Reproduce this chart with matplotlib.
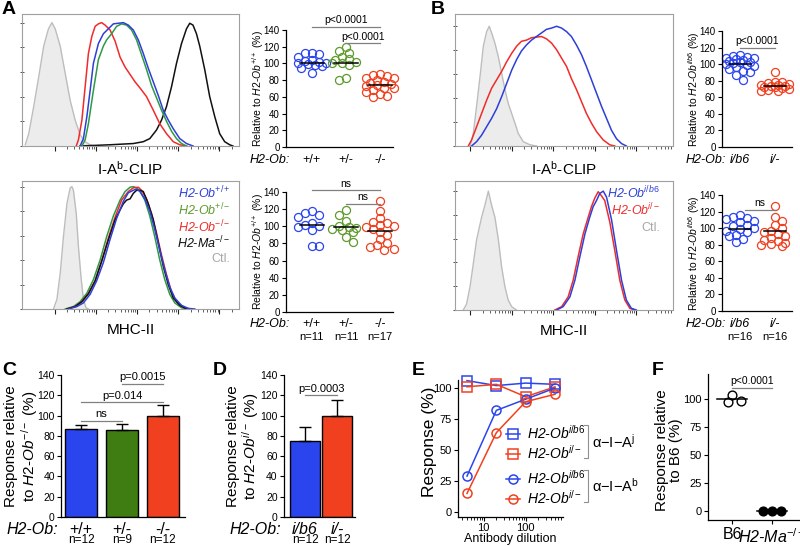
import matplotlib.pyplot as plt
import numpy as np

plt.rcParams['font.family'] = ['Liberation Sans', 'DejaVu Sans']
plt.rcParams['mathtext.fontset'] = 'custom'
plt.rcParams['mathtext.rm'] = 'Liberation Sans'
plt.rcParams['mathtext.it'] = 'Liberation Sans:italic'
plt.rcParams['mathtext.bf'] = 'Liberation Sans:bold'
plt.rcParams['axes.linewidth'] = 0.9

# ---------------- data ----------------
# flow histograms: channel (0-1000) vs % of max
a_clip_ctl_x = [15, 31, 54, 77, 100, 122, 138, 153, 176, 199, 222, 245, 268, 291, 314, 337]
a_clip_ctl_y = [1, 10, 32, 56, 81, 95, 100, 95, 81, 59, 37, 21, 9, 3.5, 1, 0]
a_clip_ko_x = [250, 260, 276, 291, 306, 322, 337, 352, 367, 383, 406, 429, 452, 475, 498, 521, 544, 574, 605, 635, 666, 697, 727, 758]
a_clip_ko_y = [0, 5, 21, 48, 75, 89, 97, 99, 100, 98, 94, 85, 72, 64, 58, 52, 47, 40, 29, 18, 10, 3.5, 1, 0]
a_clip_wt_x = [268, 283, 299, 314, 329, 352, 375, 398, 421, 444, 467, 490, 513, 536, 559, 582, 605, 628, 651, 674, 697, 727, 758, 788]
a_clip_wt_y = [0, 6, 24, 45, 67, 83, 91, 95, 99, 99.5, 100, 98, 94, 86, 75, 63, 52, 41, 29, 21, 14, 6, 2, 0]
a_clip_het_x = [276, 291, 306, 329, 352, 375, 390, 413, 436, 459, 482, 505, 528, 551, 574, 597, 620, 643, 666, 689, 712, 735, 758]
a_clip_het_y = [0, 5, 18, 45, 70, 81, 86, 91, 97, 99, 98, 94, 86, 74, 62, 49, 39, 29, 20, 12, 6, 2, 0]
a_clip_ma_x = [268, 406, 513, 559, 589, 620, 643, 666, 689, 712, 735, 758, 773, 788, 804, 819, 842, 865, 888, 911, 934, 957, 972]
a_clip_ma_y = [0, 1, 2, 3.5, 6, 13, 21, 32, 48, 67, 83, 95, 99.5, 98, 91, 81, 62, 40, 24, 10, 3.5, 1, 0]

a_mhc_ctl_x = [145, 161, 176, 191, 207, 222, 230, 237, 250, 260, 273, 283, 295, 306]
a_mhc_ctl_y = [0, 8, 29, 59, 86, 99, 100, 97, 78, 51, 24, 8, 1, 0]
a_mhc_het_x = [199, 237, 268, 299, 329, 360, 390, 421, 452, 475, 498, 513, 528, 544, 566, 589, 612, 635, 658, 681, 704, 735, 766]
a_mhc_het_y = [0, 2, 6, 13, 24, 40, 59, 76, 89, 96, 99.5, 100, 99, 96, 89, 76, 59, 40, 24, 12, 5, 1, 0]
a_mhc_wt_x = [214, 253, 283, 314, 344, 375, 406, 436, 467, 490, 513, 528, 544, 566, 589, 612, 635, 658, 681, 704, 735, 766, 796]
a_mhc_wt_y = [0, 2, 5, 12, 23, 38, 57, 74, 88, 95, 97, 98, 96, 90, 80, 65, 48, 32, 18, 9, 3, 0.5, 0]
a_mhc_ko_x = [207, 245, 276, 306, 337, 367, 398, 429, 459, 490, 513, 536, 551, 574, 597, 620, 643, 666, 689, 712, 743, 773]
a_mhc_ko_y = [0, 2, 6, 12.5, 23, 39, 58, 75, 89, 96, 99, 99.5, 97, 90, 78, 62, 44, 28, 14, 6, 1.6, 0]
a_mhc_ma_x = [207, 245, 276, 306, 337, 367, 398, 429, 452, 467, 482, 498, 513, 528, 544, 559, 582, 605, 628, 651, 674, 697, 727, 758]
a_mhc_ma_y = [0, 2, 6, 12.5, 23, 39, 56.5, 73, 81, 86, 89, 90, 94.5, 97, 97, 96, 86, 73, 54, 35, 20, 9, 3, 0]

b_clip_ctl_x = [69, 84, 99, 115, 130, 145, 157, 168, 183, 199, 214, 229, 244, 260, 275, 290, 313, 344, 374]
b_clip_ctl_y = [0, 10.5, 33, 58, 83, 95, 99.5, 94, 85.5, 74, 60.5, 47, 35.5, 27, 19, 10.5, 3.6, 1, 0]
b_clip_ko_x = [61, 76, 99, 122, 145, 168, 191, 214, 237, 260, 283, 305, 328, 351, 374, 397, 420, 443, 466, 489, 512, 534, 557, 580, 603, 626, 649, 680, 710, 733]
b_clip_ko_y = [0, 5, 16, 27, 38, 48, 55, 62, 70, 77, 83, 87, 88, 90, 90.5, 91, 89, 85.5, 80, 73, 66, 56, 47, 37, 27, 19, 12, 5, 1, 0]
b_clip_ib6_x = [76, 99, 122, 145, 168, 191, 214, 237, 260, 283, 305, 328, 351, 374, 397, 420, 443, 466, 489, 512, 534, 557, 580, 603, 626, 649, 672, 695, 718, 741, 764, 786]
b_clip_ib6_y = [0, 3.6, 9, 16, 23, 31, 41, 52, 63, 72, 79, 84, 88, 91, 94, 97, 98, 99.5, 98, 95, 91, 84, 76, 66, 55, 44, 33, 23, 13, 6, 2, 0]

b_mhc_ctl_x = [38, 53, 69, 84, 99, 122, 137, 153, 168, 183, 199, 214, 229, 244, 260, 282]
b_mhc_ctl_y = [0, 5, 19.6, 39, 59, 78, 88, 100, 88, 78, 59, 36, 19.6, 8.4, 2.8, 0]
b_mhc_ib6_x = [466, 496, 527, 550, 573, 596, 618, 634, 649, 664, 680, 695, 718, 741, 764, 786, 809, 832]
b_mhc_ib6_y = [0, 2.8, 11, 25, 45, 64, 78, 87, 92, 98, 100, 95, 76, 50, 25, 8.4, 1.4, 0]
b_mhc_ko_x = [458, 489, 519, 542, 565, 588, 611, 626, 641, 657, 672, 687, 710, 733, 756, 779, 802, 825]
b_mhc_ko_y = [0, 2.8, 11, 25, 45, 64, 78, 87, 94, 99.5, 96, 92, 74, 50, 25, 8.4, 1.4, 0]

# dot plots (% relative)
a_geno = ['+/+', '+/-', '-/-']
a_clip_wt = [113, 112, 111, 108, 104, 103, 102, 101, 100, 99, 98, 97, 95, 89]
a_clip_het = [120, 115, 113, 108, 105, 104, 102, 101, 100, 98, 83, 80]
a_clip_ko = [87, 86, 85, 83, 82, 80, 78, 76, 75, 74, 73, 71, 70, 68, 66, 63, 61, 60]
a_clip_med = [101, 101, 74]
a_mhc_wt = [118, 115, 113, 111, 104, 102, 100, 99, 96, 77, 77]
a_mhc_het = [119, 113, 106, 100, 99, 98, 97, 96, 93, 88, 82]
a_mhc_ko = [130, 118, 110, 105, 104, 102, 100, 99, 97, 93, 90, 85, 80, 78, 76, 74, 72]
a_mhc_med = [101, 99, 95]
a_mhc_n = ['n=11', 'n=11', 'n=17']

b_geno = ['i/b6', 'i/-']
b_clip_ib6 = [111, 110, 109, 108, 107, 106, 105, 104, 103, 102, 101, 100, 99, 98, 96, 94, 92, 90, 87, 81]
b_clip_ko = [90, 79, 78, 77, 76, 75, 75, 74, 74, 73, 72, 71, 70, 69, 68, 67]
b_clip_med = [100, 74]
b_mhc_ib6 = [116, 114, 112, 111, 109, 107, 104, 102, 100, 99, 97, 95, 92, 90, 87, 83]
b_mhc_ko = [127, 114, 109, 104, 100, 97, 95, 93, 90, 88, 86, 84, 82, 81, 80, 79]
b_mhc_med = [99, 96]
b_mhc_n = ['n=16', 'n=16']

# C, D bars
c_mean = [87, 86, 100]
c_err = [4, 6, 10]
c_n = ['n=12', 'n=9', 'n=12']
d_mean = [75, 100]
d_err = [14, 15]
d_n = ['n=12', 'n=12']

# E dilution curves
e_dilution = [4, 20, 100, 500]
e_ib6_Aj = [106, 102, 104, 103]
e_ko_Aj = [101, 103, 93, 101]
e_ib6_Ab = [29, 82, 91, 100]
e_ko_Ab = [15, 64, 89, 95]

# F
f_b6 = [104, 97, 98]
f_ma = [0, 0, 0]
f_med = [100, 0]

BLUE = '#2b45ee'
GREEN = '#5f9a2c'
RED = '#f0401f'
H_BLUE = '#2e3fd8'
H_GREEN = '#2e9a45'
H_RED = '#f02b2b'
GRAY_LINE = '#808080'

W, H = 800, 546
fig = plt.figure(figsize=(8, 5.46), dpi=100)


def px_axes(x0, x1, y0, y1):
    return fig.add_axes([x0 / W, 1 - y1 / H, (x1 - x0) / W, (y1 - y0) / H])


def flow_hist(ax, ctl_x, ctl_y, curves, ytop, decades):
    ax.fill_between(ctl_x, ctl_y, color='#ececec', lw=0)
    ax.plot(ctl_x, ctl_y, color='#bdbdbd', lw=1)
    for x, y, c in curves:
        ax.plot(x, y, color=c, lw=1.1)
    ax.set_xlim(0, 1000)
    ax.set_ylim(0, ytop)
    for s in ax.spines.values():
        s.set_color('#a0a0a0')
        s.set_linewidth(0.8)
    ax.set_yticks(range(0, 101, 20))
    ax.set_yticklabels([])
    ax.tick_params(axis='y', direction='inout', length=3, width=0.6, color='#333333')
    minors = []
    for d in decades:
        for k in range(2, 10):
            p = d + 190 * np.log10(k)
            if p < 1000:
                minors.append(p)
    ax.set_xticks(decades)
    ax.set_xticks(minors, minor=True)
    ax.set_xticklabels([])
    ax.tick_params(axis='x', which='major', direction='out', length=3.5, width=0.8, color='#222222')
    ax.tick_params(axis='x', which='minor', direction='out', length=2, width=0.6, color='#444444')


def swarm(vals, ppx, ppy, d=6.5, step=3.5, kmax=4):
    placed = []
    offs = []
    for i, v in enumerate(vals):
        sign = 1 if i % 2 == 0 else -1
        best, best_gap = 0.0, -1
        found = False
        for k in range(kmax + 1):
            cands = [0.0] if k == 0 else [sign * k * step, -sign * k * step]
            for c in cands:
                gap = min([np.hypot(c - px, (v - pv) * ppy) for px, pv in placed], default=1e9)
                if gap >= d:
                    best, found = c, True
                    break
                if gap > best_gap:
                    best, best_gap = c, gap
            if found:
                break
        placed.append((best, v))
        offs.append(best / ppx)
    return np.array(offs)


def style_axes(ax, fs=7):
    ax.spines['top'].set_visible(False)
    ax.spines['right'].set_visible(False)
    ax.tick_params(axis='y', direction='out', length=3, width=0.8, labelsize=fs, pad=1.5)
    ax.tick_params(axis='x', length=0)


def cat_labels(ax, labels, italic, fs, base_pt, ns=None, n_fs=8, n_pt=20, hx=3):
    for i, lab in enumerate(labels):
        ax.annotate(lab, xy=(i + 1, 0), xycoords=('data', 'axes fraction'),
                    xytext=(0, -base_pt), textcoords='offset points', ha='center',
                    va='baseline', fontsize=fs, style='italic' if italic else 'normal',
                    annotation_clip=False)
        if ns is not None:
            ax.annotate(ns[i], xy=(i + 1, 0), xycoords=('data', 'axes fraction'),
                        xytext=(0, -n_pt), textcoords='offset points', ha='center',
                        va='baseline', fontsize=n_fs, annotation_clip=False)
    ax.annotate('H2-Ob:', xy=(0, 0), xycoords='axes fraction', xytext=(hx, -base_pt),
                textcoords='offset points', ha='right', va='baseline', fontsize=fs, style='italic',
                annotation_clip=False)
    ax.set_xticks([])


def bracket(ax, x1, x2, y, text, fs=7.5):
    ax.plot([x1, x2], [y, y], color=GRAY_LINE, lw=0.9, clip_on=False)
    ax.annotate(text, xy=((x1 + x2) / 2, y), xytext=(0, 1.2), textcoords='offset points',
                ha='center', va='bottom', fontsize=fs, annotation_clip=False)


def dot_panel(ax, groups, colors, medians, xlim, ppx, ppy, half=0.36):
    for i, (vals, c, m) in enumerate(zip(groups, colors, medians)):
        offs = swarm(vals, ppx, ppy)
        ax.plot(i + 1 + offs, vals, 'o', ms=5.8, mfc='none', mec=c, mew=0.9, clip_on=False)
        ax.plot([i + 1 - half, i + 1 + half], [m, m], color='black', lw=1.1)
    ax.set_xlim(*xlim)
    ax.set_ylim(0, 140)
    ax.set_yticks(range(0, 141, 20))
    style_axes(ax)


# ---------------- panel A ----------------
ax = px_axes(22, 239, 14, 146)
flow_hist(ax, a_clip_ctl_x, a_clip_ctl_y,
          [(a_clip_ma_x, a_clip_ma_y, '#111111'), (a_clip_ko_x, a_clip_ko_y, H_RED),
           (a_clip_het_x, a_clip_het_y, H_GREEN), (a_clip_wt_x, a_clip_wt_y, H_BLUE)],
          107, [150, 340, 530, 720, 910])
ax.set_xlabel('I-A$^{\\mathrm{b}}$-CLIP', fontsize=11, labelpad=3)

ax = px_axes(22, 239, 181, 309)
flow_hist(ax, a_mhc_ctl_x, a_mhc_ctl_y,
          [(a_mhc_het_x, a_mhc_het_y, H_GREEN), (a_mhc_ko_x, a_mhc_ko_y, H_RED),
           (a_mhc_ma_x, a_mhc_ma_y, '#111111'), (a_mhc_wt_x, a_mhc_wt_y, H_BLUE)],
          104.6, [150, 340, 530, 720, 910])
ax.set_xlabel('MHC-II', fontsize=11, labelpad=3)
for lab, c, yy in [('H2-Ob$^{+/+}$', H_BLUE, 0.906), ('H2-Ob$^{+/-}$', GREEN, 0.773),
                   ('H2-Ob$^{-/-}$', H_RED, 0.64), ('H2-Ma$^{-/-}$', '#111111', 0.516)]:
    ax.text(0.96, yy, lab, color=c, fontsize=9, style='italic', ha='right', va='center',
            transform=ax.transAxes)
ax.text(0.96, 0.39, 'Ctl.', color='#a8a8a8', fontsize=9, ha='right', va='center',
        transform=ax.transAxes)

ax = px_axes(286, 393, 30, 147)
dot_panel(ax, [a_clip_wt, a_clip_het, a_clip_ko], [BLUE, GREEN, RED], a_clip_med,
          (0.24, 3.38), 34.1, 0.836)
ax.set_ylabel('Relative to $\\mathit{H2}$-$\\mathit{Ob}^{+/+}$ (%)', fontsize=7.5)
ax.yaxis.set_label_coords(-0.19, 0.5)
cat_labels(ax, a_geno, False, 9, 11.5)
bracket(ax, 1, 3, 143.6, 'p<0.0001')
bracket(ax, 2, 3, 124, 'p<0.0001')

ax = px_axes(286, 393, 192, 312)
dot_panel(ax, [a_mhc_wt, a_mhc_het, a_mhc_ko], [BLUE, GREEN, RED], a_mhc_med,
          (0.24, 3.38), 34.1, 0.857)
ax.set_ylabel('Relative to $\\mathit{H2}$-$\\mathit{Ob}^{+/+}$ (%)', fontsize=7.5)
ax.yaxis.set_label_coords(-0.19, 0.5)
cat_labels(ax, a_geno, False, 9, 11, a_mhc_n, 8, 20.5)
bracket(ax, 1, 3, 142, 'ns')
bracket(ax, 2, 3, 126, 'ns')

# ---------------- panel B ----------------
ax = px_axes(455, 673, 14, 146)
flow_hist(ax, b_clip_ctl_x, b_clip_ctl_y,
          [(b_clip_ko_x, b_clip_ko_y, H_RED), (b_clip_ib6_x, b_clip_ib6_y, H_BLUE)],
          109.7, [70, 260, 450, 640, 830])
ax.set_xlabel('I-A$^{\\mathrm{b}}$-CLIP', fontsize=11, labelpad=3)

ax = px_axes(455, 673, 181, 310)
flow_hist(ax, b_mhc_ctl_x, b_mhc_ctl_y,
          [(b_mhc_ko_x, b_mhc_ko_y, H_RED), (b_mhc_ib6_x, b_mhc_ib6_y, H_BLUE)],
          108.5, [70, 260, 450, 640, 830])
ax.set_xlabel('MHC-II', fontsize=11, labelpad=3)
ax.text(0.94, 0.907, 'H2-Ob$^{i/b6}$', color=H_BLUE, fontsize=9, style='italic', ha='right',
        va='center', transform=ax.transAxes)
ax.text(0.94, 0.775, 'H2-Ob$^{i/-}$', color=H_RED, fontsize=9, style='italic', ha='right',
        va='center', transform=ax.transAxes)
ax.text(0.94, 0.636, 'Ctl.', color='#a8a8a8', fontsize=9, ha='right', va='center',
        transform=ax.transAxes)

ax = px_axes(722, 792, 31, 147)
dot_panel(ax, [b_clip_ib6, b_clip_ko], [BLUE, RED], b_clip_med, (0.486, 2.486), 35, 0.829,
          half=0.32)
ax.set_ylabel('Relative to $\\mathit{H2}$-$\\mathit{Ob}^{i/b6}$ (%)', fontsize=7.5)
ax.yaxis.set_label_coords(-0.29, 0.5)
cat_labels(ax, b_geno, True, 9, 11.5)
bracket(ax, 1, 2, 120, 'p<0.0001')

ax = px_axes(722, 792, 195, 311)
dot_panel(ax, [b_mhc_ib6, b_mhc_ko], [BLUE, RED], b_mhc_med, (0.486, 2.486), 35, 0.829,
          half=0.32)
ax.set_ylabel('Relative to $\\mathit{H2}$-$\\mathit{Ob}^{i/b6}$ (%)', fontsize=7.5)
ax.yaxis.set_label_coords(-0.29, 0.5)
cat_labels(ax, b_geno, True, 9, 11.5, b_mhc_n, 8, 21)
bracket(ax, 1.15, 2, 122, 'ns')

# ---------------- panel C ----------------
ax = px_axes(61, 185, 375, 517)
cx = np.arange(1, len(c_mean) + 1)
ax.bar(cx, c_mean, width=0.8, color=[BLUE, '#3f7d13', RED], edgecolor='black', lw=1)
ax.errorbar(cx, c_mean, yerr=[np.zeros(len(c_err)), c_err], fmt='none', ecolor='black',
            elinewidth=1, capsize=4.5, capthick=1)
ax.set_xlim(0.51, 3.54)
ax.set_ylim(0, 140)
ax.set_yticks(range(0, 141, 20))
style_axes(ax, 7.5)
ax.set_ylabel('Response relative\nto $\\mathit{H2}$-$\\mathit{Ob}^{-/-}$ (%)', fontsize=11,
              linespacing=1.05)
ax.yaxis.set_label_coords(-0.17, 0.5)
cat_labels(ax, a_geno, False, 11.5, 12, c_n, 8.5, 19, hx=-2)
bracket(ax, 1, 2, 95, 'ns', 8)
bracket(ax, 1, 3, 113, 'p=0.014', 8)
bracket(ax, 2, 3, 131, 'p=0.0015', 8)

# ---------------- panel D ----------------
ax = px_axes(284, 355, 375, 517)
dx = np.arange(1, len(d_mean) + 1)
ax.bar(dx, d_mean, width=0.92, color=[BLUE, RED], edgecolor='black', lw=1)
ax.errorbar(dx, d_mean, yerr=[np.zeros(len(d_err)), d_err], fmt='none', ecolor='black',
            elinewidth=1, capsize=4.5, capthick=1)
ax.set_xlim(0.34, 2.56)
ax.set_ylim(0, 140)
ax.set_yticks(range(0, 141, 20))
style_axes(ax, 7.5)
ax.set_ylabel('Response relative\nto $\\mathit{H2}$-$\\mathit{Ob}^{i/-}$ (%)', fontsize=11,
              linespacing=1.05)
ax.yaxis.set_label_coords(-0.32, 0.5)
cat_labels(ax, b_geno, True, 11.5, 12, d_n, 8.5, 19, hx=-2)
bracket(ax, 1, 2, 120, 'p=0.0003', 8)

# ---------------- panel E ----------------
ax = px_axes(458, 563, 380, 517)
sq_b, = ax.plot(e_dilution, e_ib6_Aj, '-s', color=BLUE, mfc='none', ms=6.5, mew=1.1, lw=1.1,
                clip_on=False)
sq_r, = ax.plot(e_dilution, e_ko_Aj, '-s', color=RED, mfc='none', ms=6.5, mew=1.1, lw=1.1,
                clip_on=False)
ci_b, = ax.plot(e_dilution, e_ib6_Ab, '-o', color=BLUE, mfc='none', ms=6.5, mew=1.1, lw=1.1,
                clip_on=False)
ci_r, = ax.plot(e_dilution, e_ko_Ab, '-o', color=RED, mfc='none', ms=6.5, mew=1.1, lw=1.1,
                clip_on=False)
ax.set_xscale('log')
ax.set_xlim(2.44, 775)
ax.set_ylim(-4, 106.5)
ax.set_yticks([0, 25, 50, 75, 100])
ax.set_xticks([10, 100])
ax.set_xticklabels(['10', '100'])
style_axes(ax, 8)
ax.tick_params(axis='x', which='major', length=3, width=0.8, labelsize=8, pad=1)
ax.tick_params(axis='x', which='minor', length=1.8, width=0.6)
ax.set_ylabel('Response (%)', fontsize=12.5)
ax.yaxis.set_label_coords(-0.2, 0.55)
ax.set_xlabel('Antibody dilution', fontsize=9, labelpad=0)
leg_kw = dict(loc='upper left', frameon=False, handlelength=1.0, handletextpad=0.5,
              labelspacing=0.15, borderpad=0, borderaxespad=0,
              prop={'style': 'italic', 'size': 10})
leg1 = ax.legend([sq_b, sq_r], ['H2-Ob$^{i/b6}$', 'H2-Ob$^{i/-}$'],
                 bbox_to_anchor=(0.457, 0.68), **leg_kw)
ax.add_artist(leg1)
ax.legend([ci_b, ci_r], ['H2-Ob$^{i/b6}$', 'H2-Ob$^{i/-}$'],
          bbox_to_anchor=(0.457, 0.35), **leg_kw)
for y0, y1, txt in [(0.67, 0.43, '\u03b1\u2212I\u2212A$^{\\mathrm{j}}$'),
                    (0.34, 0.11, '\u03b1\u2212I\u2212A$^{\\mathrm{b}}$')]:
    ax.plot([1.2, 1.24, 1.24, 1.2], [y0, y0, y1, y1], color='#909090', lw=0.8,
            transform=ax.transAxes, clip_on=False)
    ax.text(1.28, (y0 + y1) / 2, txt, fontsize=10.5, ha='left', va='center',
            transform=ax.transAxes)

# ---------------- panel F ----------------
ax = px_axes(708, 800, 374, 520)
for i, (vals, filled, m) in enumerate(zip([f_b6, f_ma], [False, True], f_med)):
    offs = swarm(vals, 40, 1.12, d=8.5, step=4.5)
    ax.plot(i + 1 + offs, vals, 'o', ms=6.3, mfc='black' if filled else 'none', mec='black',
            mew=1, clip_on=False)
    ax.plot([i + 1 - 0.38, i + 1 + 0.38], [m, m], color='black', lw=1.1)
ax.set_xlim(0.4, 2.7)
ax.set_ylim(-8, 122.3)
ax.set_yticks([0, 25, 50, 75, 100])
style_axes(ax, 8)
ax.set_xticks([1, 2])
ax.set_xticklabels(['B6', 'H2-Ma$^{-/-}$'], fontsize=11.5)
ax.get_xticklabels()[1].set_style('italic')
ax.tick_params(axis='x', length=3, width=0.8, pad=2)
ax.set_ylabel('Response relative\nto B6 (%)', fontsize=11, linespacing=1.05)
ax.yaxis.set_label_coords(-0.27, 0.48)
bracket(ax, 1, 2, 110, 'p<0.0001', 7.5)

# panel letters
for lab, x, y in [('A', 2, 1), ('B', 431, 1), ('C', 2, 362), ('D', 213, 362),
                  ('E', 412, 362), ('F', 652, 362)]:
    fig.text(x / W, 1 - y / H, lab, fontsize=14, fontweight='bold', ha='left', va='top')

fig.savefig('out.png', dpi=100)
